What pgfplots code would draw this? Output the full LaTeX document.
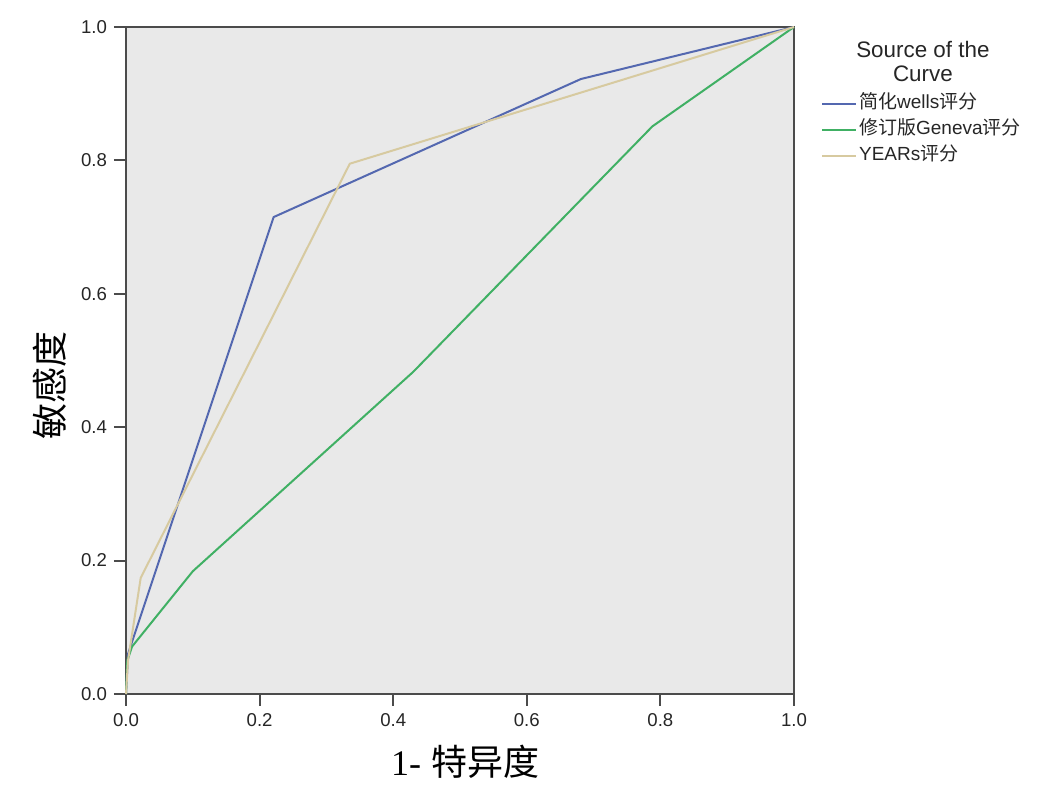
\documentclass[border=0pt]{standalone}
\usepackage{fontspec}
\setmainfont{Liberation Sans}
\newfontfamily\cjk{Noto Sans CJK SC}
\newfontfamily\serif{Liberation Serif}
\usepackage{pgfplots}
\pgfplotsset{compat=1.18}
\definecolor{wellsBlue}{RGB}{84,104,176}
\definecolor{genevaGreen}{RGB}{64,176,100}
\definecolor{yearsTan}{RGB}{215,202,160}
\definecolor{panelBg}{RGB}{233,233,233}
\definecolor{axisGray}{RGB}{75,75,75}

\begin{document}
\begin{tikzpicture}
\useasboundingbox (-63pt,-54pt) rectangle (459pt,347pt);
\begin{axis}[
    at={(0pt,0pt)}, anchor=south west,
    scale only axis, width=334pt, height=333.5pt,
    xmin=0, xmax=1, ymin=0, ymax=1,
    xtick={0,0.2,0.4,0.6,0.8,1}, ytick={0,0.2,0.4,0.6,0.8,1},
    xtick pos=bottom, ytick pos=left,
    tick align=outside, major tick length=6pt,
    tick style={draw=axisGray, line width=1pt},
    axis line style={draw=axisGray, line width=1pt},
    axis background/.style={fill=panelBg},
    tick label style={font=\fontsize{9.3}{10}\selectfont, text=black!85},
    /pgf/number format/.cd, fixed, fixed zerofill, precision=1, assume math mode=true, /tikz/.cd,
    legend style={at={(axis description cs:1.040,0.899)}, anchor=north west,
        draw=none, fill=none, inner sep=0pt, row sep=4pt,
        font=\fontsize{9.5}{10}\selectfont, text=black!85,
        nodes={inner xsep=1pt, inner ysep=0pt, text height=7pt, text depth=2pt}},
    legend cell align=left,
    legend image code/.code={\draw[#1] (0pt,0pt) -- (17pt,0pt);},
    clip=false,
]
\addplot[wellsBlue, line width=1pt] coordinates {(0,0) (0.003,0.06) (0.221,0.715) (0.681,0.922) (1,1)};
\addlegendentry{{\cjk 简化}wells{\cjk 评分}}
\addplot[genevaGreen, line width=1pt] coordinates {(0,0) (0.002,0.05) (0.009,0.071) (0.100,0.184) (0.430,0.483) (0.788,0.851) (1,1)};
\addlegendentry{{\cjk 修订版}Geneva{\cjk 评分}}
\addplot[yearsTan, line width=1pt] coordinates {(0,0) (0.003,0.05) (0.022,0.174) (0.335,0.795) (1,1)};
\addlegendentry{YEARs{\cjk 评分}}
\node[align=center, font=\fontsize{11.2}{12}\selectfont, text=black!85] at (axis description cs:1.193,0.949) {Source of the\\Curve};
\node[rotate=90, font=\fontsize{18}{20}\selectfont\cjk] at (axis description cs:-0.114,0.463) {敏感度};
\node[font=\fontsize{18}{20}\selectfont] at (axis description cs:0.5075,-0.102) {{\serif 1-} {\cjk 特异度}};
\end{axis}
\end{tikzpicture}
\end{document}
